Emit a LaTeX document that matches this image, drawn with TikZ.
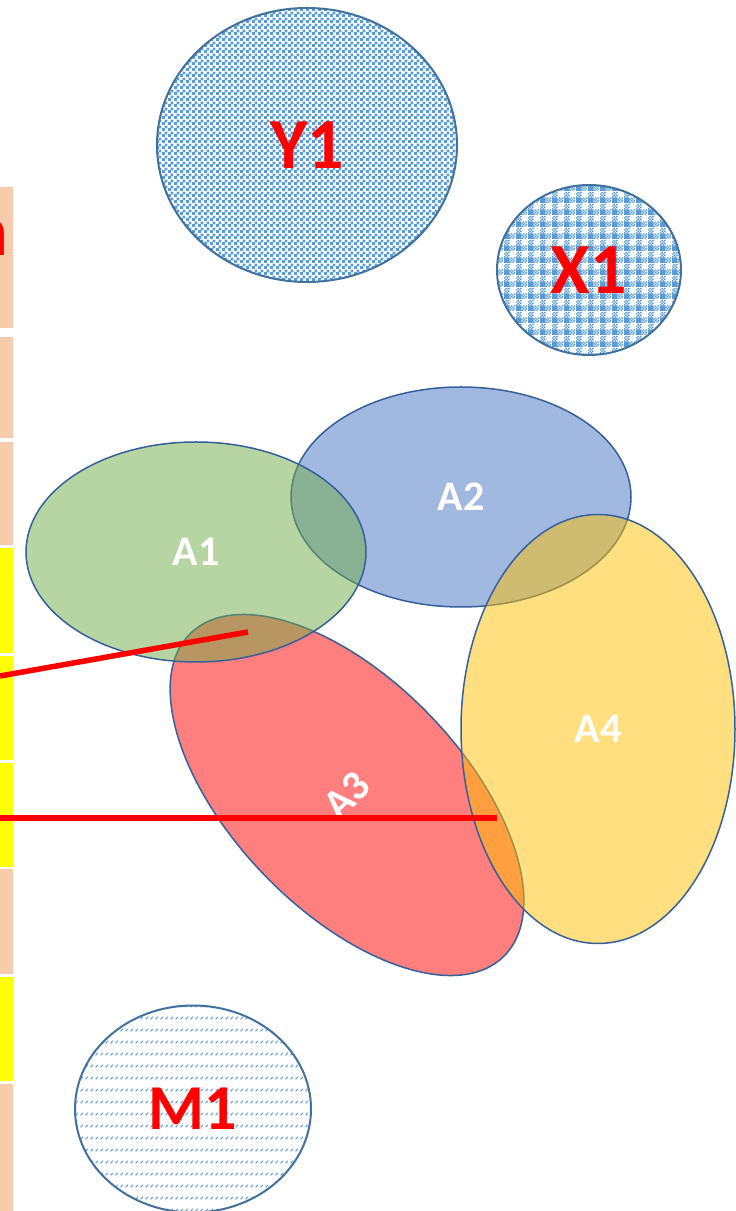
\documentclass[tikz,border=0pt]{standalone}
\usepackage{fontspec}
\setmainfont{Carlito}
\usetikzlibrary{shapes.geometric,patterns.meta}
\definecolor{peach}{HTML}{F8CBAD}
\definecolor{lemon}{HTML}{FFFF00}
\definecolor{pat}{HTML}{5B9BD5}
\definecolor{rim}{HTML}{41719C}
\definecolor{arim}{HTML}{35609A}
\definecolor{agreen}{HTML}{70AD47}
\definecolor{ablue}{HTML}{4472C4}
\definecolor{ared}{HTML}{FF0000}
\definecolor{agold}{HTML}{FFC000}
% fill patterns of the three spots
\tikzdeclarepattern{name=smcheck,type=uncolored,
  bounding box={(0pt,0pt) and (6pt,6pt)},tile size={(6pt,6pt)},
  code={\fill (0pt,0pt) rectangle (3.3pt,3.3pt) (3pt,3pt) rectangle (6.3pt,6.3pt);}}
\tikzdeclarepattern{name=plaid,type=uncolored,
  bounding box={(0pt,0pt) and (12pt,12pt)},tile size={(12pt,12pt)},
  code={\fill (0pt,0pt) rectangle (6pt,6pt);
    \fill (6pt,0pt) rectangle +(1.5pt,1.5pt) (9pt,0pt) rectangle +(1.5pt,1.5pt)
      (7.5pt,1.5pt) rectangle +(1.5pt,1.5pt) (10.5pt,1.5pt) rectangle +(1.5pt,1.5pt)
      (6pt,3pt) rectangle +(1.5pt,1.5pt) (9pt,3pt) rectangle +(1.5pt,1.5pt)
      (7.5pt,4.5pt) rectangle +(1.5pt,1.5pt) (10.5pt,4.5pt) rectangle +(1.5pt,1.5pt);
    \fill (0pt,6pt) rectangle +(1.5pt,1.5pt) (3pt,6pt) rectangle +(1.5pt,1.5pt)
      (1.5pt,7.5pt) rectangle +(1.5pt,1.5pt) (4.5pt,7.5pt) rectangle +(1.5pt,1.5pt)
      (0pt,9pt) rectangle +(1.5pt,1.5pt) (3pt,9pt) rectangle +(1.5pt,1.5pt)
      (1.5pt,10.5pt) rectangle +(1.5pt,1.5pt) (4.5pt,10.5pt) rectangle +(1.5pt,1.5pt);}}
\tikzdeclarepattern{name=dashdiag,type=uncolored,
  bounding box={(0pt,0pt) and (5pt,12pt)},tile size={(5pt,12pt)},
  code={\draw[line width=1.1pt] (0.8pt,0.8pt) -- (3.4pt,3.4pt);}}
\begin{document}
\begin{tikzpicture}[x=1pt,y=1pt,
	blob/.style={ellipse,draw=arim,line width=1.5pt,inner sep=0pt,fill opacity=0.5,text opacity=1,
		text=white,font=\fontsize{42}{42}\selectfont\bfseries},
	spot/.style={ellipse,draw=rim,line width=2pt,inner sep=0pt,pattern color=pat,
		text=red,font=\fontsize{72}{72}\selectfont\bfseries},
	redline/.style={draw=red,line width=5.5pt}]
	\useasboundingbox[fill=white] (0,0) rectangle (736,1211);
	% strip at the left edge
	\foreach \lo/\hi/\c in {883/1024/peach,773/874/peach,666/769/peach,558/663/lemon,451/555/lemon,
		344/448/lemon,237/342/peach,130/234/lemon,0/127/peach}
		\fill[\c] (0,\lo) rectangle (13,\hi);
	\node[anchor=base east,inner sep=0pt,text=red,font=\fontsize{72}{72}\selectfont\bfseries] (cut) at (8,955) {n};
	% patterned spots
	\node[spot,pattern=smcheck,minimum width=300,minimum height=274] (y1) at (307,1066) {Y1};
	\node[spot,pattern=plaid,minimum width=184,minimum height=170] (x1) at (589,941) {X1};
	\node[spot,pattern=dashdiag,minimum width=236,minimum height=207,font=\fontsize{64}{64}\selectfont\bfseries] (m1) at (193,102) {M1};
	% overlapping sets
	\node[blob,fill=ablue,minimum width=340,minimum height=220] (a2) at (461,714) {A2};
	\node[blob,fill=ared,rotate=44,minimum width=230,minimum height=450] (a3) at (347,416) {A3};
	\node[blob,fill=agreen,minimum width=340,minimum height=220] (a1) at (196,659) {A1};
	\node[blob,fill=agold,minimum width=274,minimum height=429] (a4) at (598,482) {A4};
	% pointers
	\coordinate (p1) at (0,535);
	\coordinate (q1) at (248,579);
	\coordinate (p2) at (0,393);
	\coordinate (q2) at (497,393);
	\draw[redline] (p1) -- (q1);
	\draw[redline] (p2) -- (q2);
\end{tikzpicture}
\end{document}
